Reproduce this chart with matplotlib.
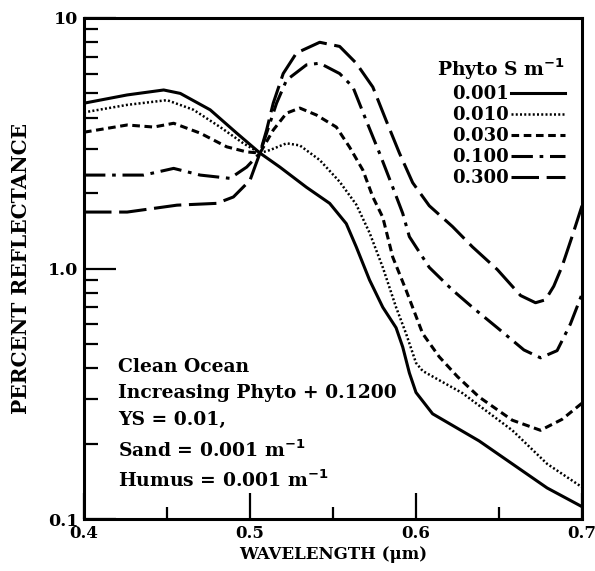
import matplotlib
matplotlib.use("Agg")
import matplotlib.pyplot as plt
from matplotlib.ticker import FixedLocator, NullFormatter, FixedFormatter

plt.rcParams['font.family'] = ['DejaVu Serif']
plt.rcParams['font.weight'] = 'bold'

wl_001 = [0.400,0.426,0.448,0.458,0.476,0.492,0.506,0.518,0.534,0.548,0.558,0.564,0.572,0.580,0.588,0.592,0.596,0.600,0.610,0.638,0.658,0.679,0.700]
r_001 = [4.57,4.93,5.16,5.0,4.3,3.47,2.89,2.54,2.11,1.82,1.51,1.22,0.9,0.70,0.58,0.486,0.383,0.32,0.263,0.205,0.166,0.133,0.112]

wl_010 = [0.400,0.426,0.450,0.466,0.482,0.496,0.506,0.512,0.522,0.530,0.542,0.554,0.564,0.572,0.580,0.588,0.594,0.600,0.604,0.628,0.658,0.679,0.700]
r_010 = [4.2,4.5,4.7,4.3,3.67,3.16,2.89,2.97,3.16,3.1,2.71,2.22,1.8,1.39,1.01,0.70,0.55,0.42,0.39,0.318,0.226,0.166,0.134]

wl_030 = [0.400,0.426,0.442,0.454,0.470,0.486,0.498,0.506,0.514,0.522,0.530,0.540,0.552,0.560,0.568,0.574,0.580,0.586,0.594,0.604,0.614,0.625,0.638,0.658,0.675,0.688,0.700]
r_030 = [3.5,3.74,3.67,3.8,3.47,3.06,2.92,2.89,3.57,4.17,4.37,4.1,3.67,3.05,2.47,1.93,1.6,1.11,0.82,0.55,0.444,0.37,0.307,0.248,0.226,0.25,0.29]

wl_100 = [0.400,0.436,0.454,0.470,0.488,0.498,0.506,0.516,0.522,0.534,0.542,0.554,0.562,0.570,0.578,0.586,0.592,0.596,0.608,0.622,0.634,0.649,0.665,0.675,0.685,0.693,0.700]
r_100 = [2.36,2.36,2.51,2.36,2.29,2.54,2.89,4.57,5.65,6.5,6.6,6.0,5.3,3.9,2.89,2.11,1.66,1.34,1.01,0.82,0.70,0.58,0.473,0.44,0.47,0.60,0.79]

wl_300 = [0.400,0.426,0.456,0.480,0.490,0.500,0.506,0.510,0.514,0.520,0.528,0.542,0.554,0.564,0.574,0.582,0.590,0.598,0.608,0.622,0.634,0.649,0.663,0.672,0.678,0.683,0.688,0.694,0.700]
r_300 = [1.68,1.68,1.79,1.82,1.93,2.25,2.89,3.57,4.57,6.0,7.25,8.0,7.7,6.6,5.3,3.9,2.89,2.2,1.78,1.47,1.22,0.99,0.78,0.73,0.75,0.85,1.02,1.34,1.78]

legend_labels = ["0.001", "0.010", "0.030", "0.100", "0.300"]
x_ticks = [0.4, 0.5, 0.6, 0.7]
x_tick_labels = ["0.4", "0.5", "0.6", "0.7"]
x_minor = [0.45, 0.55, 0.65]
y_ticks = [0.1, 1.0, 10]
y_tick_labels = ["0.1", "1.0", "10"]

fig = plt.figure(figsize=(5.95, 5.71), dpi=100)
ax = fig.add_axes([84/595, 1-519/571, (582-84)/595, (519-18)/571])

lw = 2.2
series = [
    (wl_001, r_001, dict(linestyle='-', linewidth=lw)),
    (wl_010, r_010, dict(linestyle=(0, (0.8, 0.9)), linewidth=1.8)),
    (wl_030, r_030, dict(linestyle=(0, (2.5, 1.5)), linewidth=lw)),
    (wl_100, r_100, dict(linestyle=(0, (7, 2.2, 1.2, 2.2)), linewidth=lw)),
    (wl_300, r_300, dict(linestyle=(0, (9, 2.5)), linewidth=lw)),
]
handles = []
for (x, y, st), lab in zip(series, legend_labels):
    h, = ax.plot(x, y, color='black', label=lab, **st)
    handles.append(h)

ax.set_yscale('log')
ax.set_xlim(0.4, 0.7)
ax.set_ylim(0.1, 10)

ax.xaxis.set_major_locator(FixedLocator(x_ticks))
ax.xaxis.set_major_formatter(FixedFormatter(x_tick_labels))
ax.xaxis.set_minor_locator(FixedLocator(x_minor))
ax.xaxis.set_minor_formatter(NullFormatter())
ax.yaxis.set_major_locator(FixedLocator(y_ticks))
ax.yaxis.set_major_formatter(FixedFormatter(y_tick_labels))
minors = [m * d for d in (0.1, 1.0) for m in range(2, 10)]
ax.yaxis.set_minor_locator(FixedLocator(minors))
ax.yaxis.set_minor_formatter(NullFormatter())

ax.tick_params(axis='both', which='both', direction='in', top=False, right=False,
               width=1.6, labelsize=12, pad=4)
ax.tick_params(axis='y', which='major', length=23, labelsize=12.5)
ax.tick_params(axis='y', which='minor', length=10)
ax.tick_params(axis='x', which='major', length=19)
ax.tick_params(axis='x', which='minor', length=9)
for s in ax.spines.values():
    s.set_linewidth(2.2)

ax.set_xlabel("WAVELENGTH (μm)", fontsize=12, fontweight='bold', labelpad=3)
ax.set_ylabel("PERCENT REFLECTANCE", fontsize=14.5, fontweight='bold', labelpad=12)

leg = ax.legend(handles=handles, loc='upper right', bbox_to_anchor=(0.98, 0.938),
                frameon=False, markerfirst=False, handlelength=3.0, handletextpad=0.1,
                labelspacing=0.17, fontsize=13, borderaxespad=0,
                title="Phyto S m$^{-1}$", title_fontproperties={'size': 13.5, 'weight': 'bold'})
leg._legend_box.align = "right"

txt = ["Clean Ocean", "Increasing Phyto + 0.1200", "YS = 0.01,",
       "Sand = 0.001 m$^{-1}$", "Humus = 0.001 m$^{-1}$"]
ys = [367, 393, 420, 450, 480]
for t, yy in zip(txt, ys):
    ax.text((118-84)/498, 1-(yy-18)/501, t, transform=ax.transAxes,
            fontsize=13.5, fontweight='bold', va='center', ha='left')

fig.savefig("out.png", dpi=100)
